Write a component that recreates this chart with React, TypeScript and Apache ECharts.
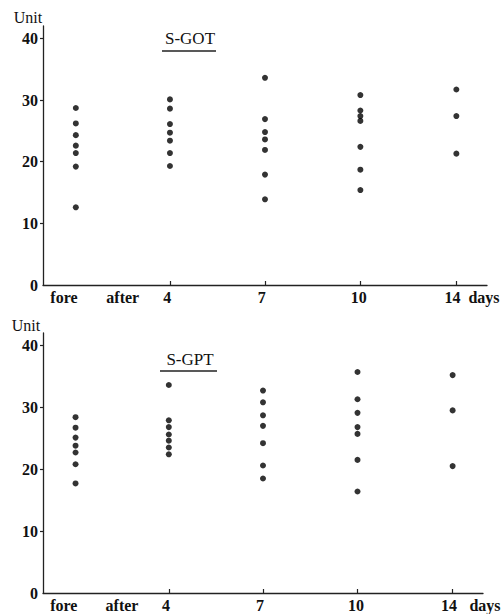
import React, { useEffect, useRef } from 'react';
import * as echarts from 'echarts';

// ---- data ----
const xCategories = ['fore', 'after', '4', '7', '10', '14'];
const yTickValues = [0, 10, 20, 30, 40];

// S-GOT (Unit)
const gotFore = [28.7, 26.2, 24.3, 22.6, 21.4, 19.2, 12.6];
const gotDay4 = [30.1, 28.6, 26.1, 24.7, 23.4, 21.4, 19.3];
const gotDay7 = [33.6, 26.9, 24.8, 23.6, 21.9, 17.9, 13.9];
const gotDay10 = [30.8, 28.3, 27.4, 26.6, 22.4, 18.7, 15.4];
const gotDay14 = [31.7, 27.4, 21.3];

// S-GPT (Unit)
const gptFore = [28.4, 26.7, 25.1, 23.8, 22.7, 20.8, 17.7];
const gptDay4 = [33.6, 27.9, 26.8, 25.6, 24.6, 23.5, 22.4];
const gptDay7 = [32.7, 30.8, 28.7, 27.0, 24.2, 20.6, 18.5];
const gptDay10 = [35.7, 31.3, 29.1, 26.8, 25.7, 21.5, 16.4];
const gptDay14 = [35.2, 29.5, 20.5];

// ---- layout (axis units along the uneven printed time axis) ----
const LABEL_POS = [0.67, 2.55, 3.97, 7.0, 10.1, 13.1];
const COLUMN_POS = [1.05, 4.06, 7.1, 10.15, 13.22];
const X_MAX = 14.2;
const Y_MAX = 42;

const SERIF = '"Liberation Serif", "DejaVu Serif", serif';
const INK = '#111';

function columnsToPoints(cols: number[][]) {
  const pts: number[][] = [];
  cols.forEach((vals, i) => vals.forEach((v) => pts.push([COLUMN_POS[i], v])));
  return pts;
}

function xAxisFor(gridIndex: number) {
  return {
    type: 'value',
    gridIndex,
    min: 0,
    max: X_MAX,
    splitLine: { show: false },
    axisLine: { show: true, onZero: false, lineStyle: { color: '#222', width: 1.3 } },
    axisTick: {
      show: true,
      inside: true,
      length: 4,
      customValues: COLUMN_POS.slice(1),
      lineStyle: { color: '#222', width: 1.2 },
    },
    axisLabel: {
      show: true,
      customValues: LABEL_POS,
      margin: 4,
      color: INK,
      fontFamily: SERIF,
      fontSize: 16,
      fontWeight: 'bold',
      formatter: (v: number) => {
        const i = LABEL_POS.findIndex((p) => Math.abs(p - v) < 0.01);
        return i >= 0 ? xCategories[i] : '';
      },
    },
  };
}

function yAxisFor(gridIndex: number) {
  return {
    type: 'value',
    gridIndex,
    min: 0,
    max: Y_MAX,
    interval: 10,
    splitLine: { show: false },
    axisLine: { show: true, lineStyle: { color: '#222', width: 1.3 } },
    axisTick: {
      show: true,
      length: 3,
      customValues: [10, 20, 30, 40],
      lineStyle: { color: '#222', width: 1.2 },
    },
    axisLabel: {
      customValues: yTickValues,
      margin: 5,
      color: INK,
      fontFamily: SERIF,
      fontSize: 16,
      fontWeight: 'bold',
    },
  };
}

function label(text: string, x: number, y: number, font: string) {
  return {
    type: 'text',
    x,
    y,
    style: { text, font, fill: INK, align: 'center', verticalAlign: 'middle' },
  };
}

export default function App() {
  const ref = useRef<HTMLDivElement>(null);
  useEffect(() => {
    if (!ref.current) return;
    const chart = echarts.init(ref.current, undefined, { renderer: 'svg' });
    const dot = { color: '#000' };
    chart.setOption({
      animation: false,
      backgroundColor: '#fff',
      grid: [
        { left: 43, width: 444, top: 26, height: 259 },
        { left: 43, width: 440, top: 333, height: 260 },
      ],
      xAxis: [xAxisFor(0), xAxisFor(1)],
      yAxis: [yAxisFor(0), yAxisFor(1)],
      series: [
        {
          name: 'S-GOT',
          type: 'scatter',
          xAxisIndex: 0,
          yAxisIndex: 0,
          symbolSize: 6,
          itemStyle: dot,
          data: columnsToPoints([gotFore, gotDay4, gotDay7, gotDay10, gotDay14]),
        },
        {
          name: 'S-GPT',
          type: 'scatter',
          xAxisIndex: 1,
          yAxisIndex: 1,
          symbolSize: 6,
          itemStyle: dot,
          data: columnsToPoints([gptFore, gptDay4, gptDay7, gptDay10, gptDay14]),
        },
      ],
      graphic: [
        label('Unit', 28, 17, `16px ${SERIF}`),
        label('Unit', 26, 325, `16px ${SERIF}`),
        label('S-GOT', 190, 38, `17px ${SERIF}`),
        { type: 'line', shape: { x1: 162, y1: 51, x2: 216, y2: 51 }, style: { stroke: '#222', lineWidth: 1.5 } },
        label('S-GPT', 190, 359, `17px ${SERIF}`),
        { type: 'line', shape: { x1: 160, y1: 371, x2: 217, y2: 371 }, style: { stroke: '#222', lineWidth: 1.5 } },
        label('days', 484, 297, `bold 16px ${SERIF}`),
        label('days', 485, 605, `bold 16px ${SERIF}`),
      ],
    });
    return () => chart.dispose();
  }, []);
  return (
    <div
      ref={ref}
      style={{ position: 'fixed', left: 0, top: 0, width: 502, height: 614, background: '#fff' }}
    />
  );
}
